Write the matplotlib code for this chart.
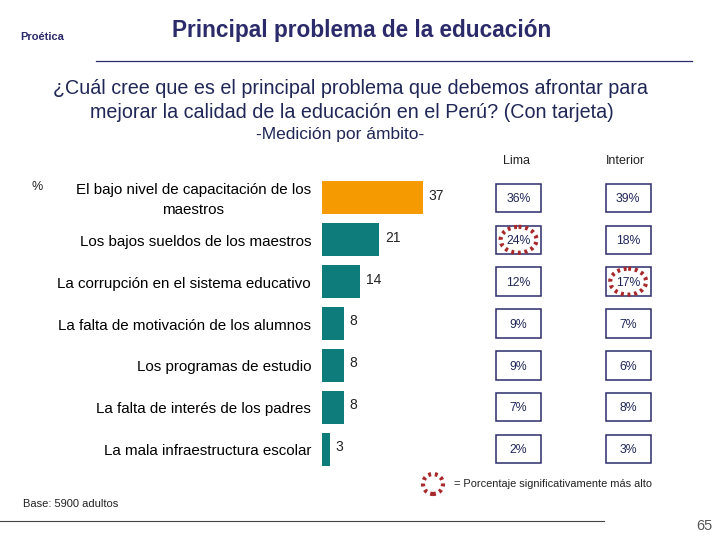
import matplotlib.pyplot as plt
import matplotlib.transforms as mtransforms
from matplotlib.patches import Rectangle, Ellipse
from matplotlib.lines import Line2D

plt.rcParams['font.family'] = ['Liberation Sans', 'DejaVu Sans']

categories = ["El bajo nivel de capacitación de los\nmaestros",
              "Los bajos sueldos de los maestros",
              "La corrupción en el sistema educativo",
              "La falta de motivación de los alumnos",
              "Los programas de estudio",
              "La falta de interés de los padres",
              "La mala infraestructura escolar"]
total = [37, 21, 14, 8, 8, 8, 3]
lima = [36, 24, 12, 9, 9, 7, 2]
interior = [39, 18, 17, 7, 6, 8, 3]
lima_high = [False, True, False, False, False, False, False]
interior_high = [False, False, True, False, False, False, False]

NAVY = '#2B2B6B'
TEXTNAVY = '#1F2757'
RED = '#A8282B'

fig = plt.figure(figsize=(7.2, 5.4), dpi=100)
W, H = 720, 540


def fx(px):
    return px / W


def fy(py):
    return 1 - py / H


ax = fig.add_axes([fx(322), fy(470), 378 / W, (470 - 177) / H])
ax.set_xlim(0, 138.5)
ax.set_ylim(6.5, -0.5)
ax.axis('off')

ypos = list(range(len(categories)))
colors = ['#F59A00'] + ['#0E7C7B'] * (len(categories) - 1)
ax.barh(ypos, total, height=0.79, color=colors)

for y, v, lab in zip(ypos, total, categories):
    ax.text(v + 2, y - 0.05, str(v), ha='left', va='center', fontsize=10, color='#222222')
    ax.text(-4, y + 0.05, lab, ha='right', va='center', fontsize=10.9, color='black',
            linespacing=1.5, multialignment='center', clip_on=False)

tr = mtransforms.blended_transform_factory(ax.transAxes, ax.transData)
cols = [(0.52, lima, lima_high), (0.81, interior, interior_high)]
bw = 0.12
for cx, vals, high in cols:
    for y, v, h in zip(ypos, vals, high):
        ax.add_patch(Rectangle((cx - bw / 2, y - 0.34), bw, 0.68, transform=tr,
                               fill=False, edgecolor=NAVY, linewidth=1.1, clip_on=False))
        ax.text(cx, y + 0.03, f"{v}%", transform=tr, ha='center', va='center',
                fontsize=8.8, color=TEXTNAVY, clip_on=False)
        if h:
            ax.add_patch(Ellipse((cx, y), 0.095, 0.62, transform=tr, fill=False,
                                 edgecolor=RED, linewidth=3, linestyle=(0, (0.7, 0.9)),
                                 clip_on=False))

# column headers
fig.text(fx(516), fy(161), "Lima", ha='center', va='center', fontsize=9, color='#222222')
fig.text(fx(625), fy(161), "Interior", ha='center', va='center', fontsize=9, color='#222222')
fig.text(fx(37), fy(187), "%", ha='center', va='center', fontsize=9, color='#222222')

# titles
fig.text(fx(20), fy(37), "Proética", ha='left', va='center', fontsize=8, color=NAVY, fontweight='bold')
fig.text(fx(362), fy(31), "Principal problema de la educación", ha='center', va='center',
         fontsize=16.3, fontweight='bold', color=NAVY)
fig.add_artist(Line2D([fx(96), fx(692)], [fy(61), fy(61)], color=NAVY, linewidth=0.9))
fig.text(fx(350), fy(88), "¿Cuál cree que es el principal problema que debemos afrontar para",
         ha='center', va='center', fontsize=14.2, color=TEXTNAVY)
fig.text(fx(352), fy(112), "mejorar la calidad de la educación en el Perú? (Con tarjeta)",
         ha='center', va='center', fontsize=14.2, color=TEXTNAVY)
fig.text(fx(340), fy(135), "-Medición por ámbito-", ha='center', va='center',
         fontsize=12.5, color=TEXTNAVY)

# legend
fig.add_artist(Ellipse((fx(433), fy(484)), 20 / W, 20 / H, fill=False, edgecolor=RED,
                       linewidth=3, linestyle=(0, (0.7, 0.9))))
fig.text(fx(454), fy(484), "= Porcentaje significativamente más alto", ha='left', va='center',
         fontsize=7.9, color='#222222')

fig.text(fx(23), fy(504), "Base: 5900 adultos", ha='left', va='center', fontsize=8, color='#222222')
fig.add_artist(Line2D([fx(0), fx(604)], [fy(521), fy(521)], color='#444444', linewidth=0.8))
fig.text(fx(704), fy(526), "65", ha='center', va='center', fontsize=10.5, color='#555555')

fig.savefig('out.png', dpi=100)
